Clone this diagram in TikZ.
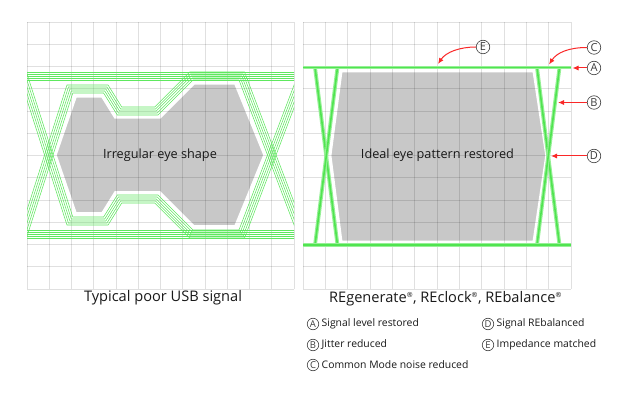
\documentclass[tikz,border=0pt]{standalone}
\usepackage{fontspec}
\setmainfont{Open Sans}
\usetikzlibrary{arrows.meta}
\definecolor{eyegray}{RGB}{200,200,200}
\definecolor{tracegreen}{RGB}{95,232,95}
\definecolor{glowouter}{RGB}{150,240,150}
\definecolor{glowinner}{RGB}{80,228,80}
\definecolor{arrowred}{RGB}{250,40,40}
\definecolor{circc}{RGB}{60,60,60}
\definecolor{txt}{RGB}{25,25,25}
\tikzset{
  eyefill/.style={fill=eyegray, draw=white, line width=1.5pt, line join=miter},
  gridline/.style={draw=black, draw opacity=0.12, line width=0.8pt},
  trace/.style={draw=tracegreen, line width=0.55pt, line join=miter},
  glow/.style={draw=glowinner, line width=1.6pt, preaction={draw=glowouter, line width=3.8pt}},
  innertext/.style={font=\fontsize{12.7}{14}\selectfont, text=txt, inner sep=0pt},
  caption/.style={font=\fontsize{14.6}{16}\selectfont, text=txt, inner sep=0pt},
  legendtext/.style={font=\fontsize{10.4}{12}\selectfont, text=txt, inner sep=0pt, anchor=west},
  circlabel/.style={circle, draw=circc, line width=0.6pt, inner sep=0pt, minimum size=13.5pt, font=\fontsize{11}{11}\selectfont, text=circc},
  legcirc/.style={circle, draw=circc, line width=0.6pt, inner sep=0pt, minimum size=11.5pt, font=\fontsize{9.5}{10}\selectfont, text=circc},
  redarrow/.style={draw=arrowred, line width=1pt, -{Latex[length=6pt,width=5pt]}}
}
\begin{document}
\begin{tikzpicture}[x=1pt,y=-1pt]
\useasboundingbox (0,0) rectangle (632,403);
\fill[white] (0,0) rectangle (632,403);

% ---------- left panel: irregular eye ----------
\filldraw[eyefill] (56,155) -- (76,97) -- (102,97) -- (115,118) -- (160,118) -- (194,84) -- (235,84) -- (264,155)
  -- (235,226) -- (194,226) -- (160,192) -- (115,192) -- (102,213) -- (76,213) -- cycle;
\foreach \i in {0,...,12} {
  \draw[gridline] ({27+\i*22.25},22) -- ({27+\i*22.25},289);
  \draw[gridline] (27,{22+\i*22.25}) -- (294,{22+\i*22.25});
}
\begin{scope}
\clip (27,22) rectangle (294,289);
\foreach \k in {0,...,4} {
  \pgfmathsetmacro\d{2*\k}
  \draw[trace] ({19.4-0.953*\d},{260-0.305*\d}) -- ({72.8-0.730*\d},{93-\d}) -- ({103.6+0.557*\d},{93-\d})
     -- ({117.3+0.557*\d},{115-\d}) -- ({158-0.414*\d},{115-\d}) -- ({193-0.414*\d},{80-\d})
     -- ({239+0.690*\d},{80-\d}) -- ({307.4+0.935*\d},{260-0.355*\d});
  \draw[trace] ({19.4-0.953*\d},{50+0.305*\d}) -- ({72.8-0.730*\d},{217+\d}) -- ({103.6+0.557*\d},{217+\d})
     -- ({117.3+0.557*\d},{195+\d}) -- ({158-0.414*\d},{195+\d}) -- ({193-0.414*\d},{230+\d})
     -- ({239+0.690*\d},{230+\d}) -- ({307.4+0.935*\d},{50+0.355*\d});
  \draw[trace] (20,{80-\d}) -- (300,{80-\d});
  \draw[trace] (20,{230+\d}) -- (300,{230+\d});
}
\end{scope}
\node[innertext] (irr) at (160,155) {Irregular eye shape};
\node[caption] (cap1) at (163,298) {Typical poor USB signal};

% ---------- right panel: ideal eye ----------
\filldraw[eyefill] (330.7,155.5) -- (341.7,71.7) -- (533.3,71.7) -- (546,155.5) -- (533.3,241.3) -- (341.7,241.3) -- cycle;
\foreach \i in {0,...,12} {
  \draw[gridline] ({303+\i*22.333},22) -- ({303+\i*22.333},289);
  \draw[gridline] (303,{22+\i*22.25}) -- (571,{22+\i*22.25});
}
\draw[glow] (315,67.5) -- (337.5,245);
\draw[glow] (337.5,67.5) -- (315,245);
\draw[glow] (537,67.5) -- (559.5,245);
\draw[glow] (559.5,67.5) -- (537,245);
\draw[glow] (303,67.5) -- (571,67.5);
\draw[glow] (303,245) -- (571,245);
\node[innertext] (ideal) at (437.5,155) {Ideal eye pattern restored};
\node[caption] (cap2) at (445.5,299) {REgenerate\textsuperscript{\scriptsize ®}, REclock\textsuperscript{\scriptsize ®}, REbalance\textsuperscript{\scriptsize ®}};

% ---------- callouts ----------
\node[circlabel] (lE) at (483,47) {E};
\node[circlabel] (lC) at (594,47.5) {C};
\node[circlabel] (lA) at (594,68) {A};
\node[circlabel] (lB) at (594,102.5) {B};
\node[circlabel] (lD) at (594,156) {D};
\coordinate (tE) at (438,64);
\coordinate (tC) at (549,64.5);
\coordinate (tA) at (572.5,68);
\coordinate (tB) at (558,102.5);
\coordinate (tD) at (551,156);
\draw[redarrow] (lE.west) .. controls +(-16,0) and +(8,-12) .. (tE);
\draw[redarrow] (lC.west) .. controls +(-18,0) and +(8,-12) .. (tC);
\draw[redarrow] (lA.west) -- (tA);
\draw[redarrow] (lB.west) -- (tB);
\draw[redarrow] (lD.west) -- (tD);

% ---------- legend ----------
\node[legcirc] (ga) at (313,324) {A};
\node[legendtext] (ta) at (321.5,324) {Signal level restored};
\node[legcirc] (gb) at (313,345) {B};
\node[legendtext] (tb) at (321.5,345) {Jitter reduced};
\node[legcirc] (gc) at (313,365) {C};
\node[legendtext] (tc) at (321.5,365) {Common Mode noise reduced};
\node[legcirc] (gd) at (488,324) {D};
\node[legendtext] (td) at (496.5,324) {Signal REbalanced};
\node[legcirc] (ge) at (488,345) {E};
\node[legendtext] (te) at (496.5,345) {Impedance matched};
\end{tikzpicture}
\end{document}
